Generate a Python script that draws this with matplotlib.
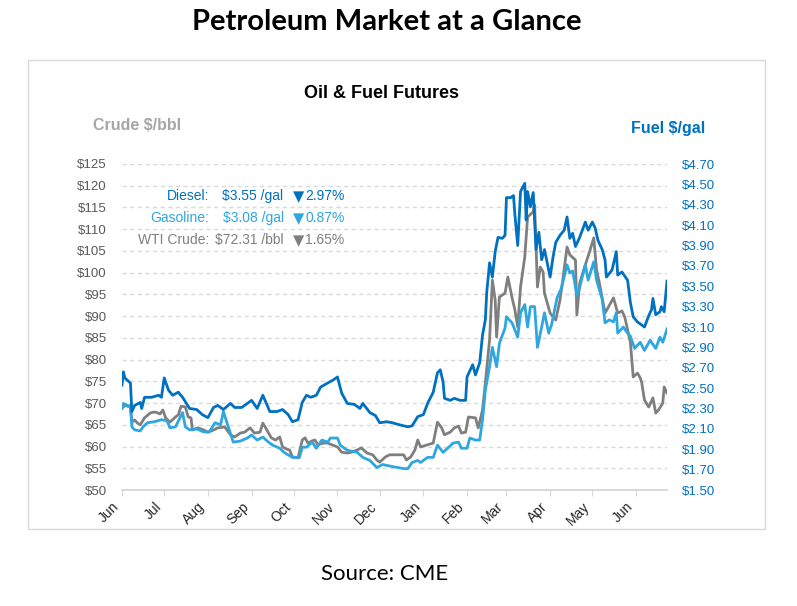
import datetime as dt
import numpy as np
import matplotlib
matplotlib.use("Agg")
import matplotlib.pyplot as plt
import matplotlib.dates as mdates
from matplotlib.patches import Rectangle

start = dt.date(2021, 6, 1)
end_day = 387

# days since 2021-06-01, values in $/gal
diesel_days = [0, 1, 2, 6, 7, 9, 13, 14, 16, 21, 26, 28, 30, 33, 36, 40, 43, 48, 53, 57,
               61, 65, 68, 72, 77, 80, 85, 89, 92, 96, 100, 105, 110, 114, 118, 121, 125, 128, 131, 134,
               138, 141, 146, 150, 153, 156, 160, 165, 169, 171, 176, 180, 183, 188, 192, 197, 203, 206, 210, 214,
               217, 221, 224, 226, 228, 229, 233, 236, 240, 244, 245, 249, 251, 254, 256, 258, 259, 261, 263, 265,
               267, 270, 272, 273, 276, 278, 279, 281, 283, 286, 287, 288, 290, 292, 294, 296, 298, 300, 303, 304,
               306, 308, 311, 314, 316, 318, 320, 322, 325, 329, 331, 334, 336, 338, 341, 343, 344, 348, 351, 352,
               355, 359, 361, 363, 366, 369, 371, 374, 376, 377, 379, 382, 383, 385, 387]
diesel = [2.53, 2.66, 2.60, 2.55, 2.27, 2.33, 2.36, 2.30, 2.41, 2.41, 2.43, 2.41, 2.60, 2.48, 2.43, 2.46, 2.41, 2.30, 2.29, 2.24,
          2.21, 2.31, 2.33, 2.29, 2.35, 2.31, 2.31, 2.35, 2.38, 2.30, 2.43, 2.27, 2.27, 2.29, 2.24, 2.17, 2.19, 2.36, 2.43, 2.41,
          2.43, 2.51, 2.55, 2.58, 2.61, 2.45, 2.35, 2.34, 2.30, 2.35, 2.26, 2.23, 2.16, 2.17, 2.16, 2.14, 2.12, 2.13, 2.22, 2.24,
          2.35, 2.46, 2.65, 2.68, 2.56, 2.40, 2.38, 2.40, 2.38, 2.38, 2.61, 2.73, 2.63, 2.75, 3.02, 3.17, 3.44, 3.73, 3.59, 3.84,
          3.98, 3.97, 4.00, 4.37, 4.37, 4.39, 4.20, 3.90, 4.43, 4.51, 4.15, 4.43, 4.28, 4.42, 3.86, 4.03, 3.76, 3.86, 3.66, 3.59,
          3.78, 3.93, 4.00, 4.05, 4.18, 3.97, 4.02, 3.89, 3.98, 4.13, 4.05, 4.13, 4.07, 3.95, 3.86, 3.76, 3.59, 3.66, 3.84, 3.61,
          3.64, 3.56, 3.34, 3.20, 3.15, 3.12, 3.10, 3.21, 3.27, 3.38, 3.22, 3.25, 3.30, 3.25, 3.55]

gasoline_days = [0, 1, 4, 6, 7, 9, 13, 15, 18, 23, 28, 32, 34, 38, 43, 45, 48, 53, 58, 62,
                 66, 70, 72, 75, 79, 84, 89, 92, 96, 100, 104, 107, 112, 115, 121, 126, 128, 131, 135, 138,
                 142, 146, 148, 153, 155, 160, 167, 171, 176, 181, 185, 192, 200, 203, 206, 210, 212, 217, 221, 224,
                 228, 232, 235, 239, 241, 245, 247, 251, 254, 256, 258, 261, 263, 266, 268, 272, 273, 277, 281, 283,
                 286, 288, 290, 293, 295, 298, 300, 303, 305, 309, 312, 316, 318, 320, 323, 325, 329, 331, 335, 337,
                 341, 343, 346, 349, 351, 352, 356, 359, 361, 364, 368, 371, 375, 379, 382, 384, 387]
gasoline = [2.30, 2.35, 2.32, 2.33, 2.12, 2.09, 2.08, 2.12, 2.16, 2.17, 2.19, 2.18, 2.11, 2.12, 2.26, 2.12, 2.09, 2.10, 2.07, 2.07,
            2.16, 2.14, 2.27, 2.14, 1.97, 1.98, 2.01, 2.04, 1.99, 2.02, 1.97, 1.94, 1.91, 1.87, 1.82, 1.82, 1.92, 1.92, 1.97, 1.91,
            1.99, 1.97, 2.01, 2.01, 1.94, 1.89, 1.87, 1.82, 1.79, 1.72, 1.75, 1.73, 1.71, 1.71, 1.77, 1.79, 1.77, 1.82, 1.82, 1.94,
            1.87, 1.92, 1.96, 1.97, 1.91, 1.91, 2.01, 1.99, 1.99, 2.19, 2.48, 2.71, 2.90, 2.71, 2.94, 3.09, 3.20, 3.14, 3.00, 3.24,
            3.32, 3.10, 3.30, 3.30, 2.90, 3.10, 3.24, 3.04, 3.12, 3.39, 3.48, 3.71, 3.63, 3.65, 3.41, 3.49, 3.71, 3.56, 3.74, 3.56,
            3.37, 3.14, 3.17, 3.15, 3.24, 3.04, 3.10, 3.04, 3.01, 2.89, 2.95, 2.87, 2.97, 2.89, 3.00, 2.95, 3.08]

# days since 2021-06-01, values in $/bbl
crude_days = [0, 3, 6, 7, 9, 11, 13, 16, 20, 22, 24, 27, 29, 31, 34, 38, 40, 42, 45, 47,
              49, 50, 54, 58, 61, 65, 68, 73, 77, 80, 84, 87, 91, 94, 98, 100, 102, 106, 109, 112,
              114, 117, 119, 121, 125, 128, 130, 132, 135, 137, 139, 143, 146, 149, 153, 156, 160, 163, 167, 170,
              174, 178, 181, 183, 187, 190, 195, 200, 202, 205, 208, 210, 212, 217, 221, 224, 227, 229, 233, 236,
              239, 241, 244, 246, 251, 253, 256, 258, 260, 261, 263, 265, 266, 268, 272, 274, 277, 279, 281, 283,
              286, 288, 292, 293, 295, 297, 299, 300, 304, 308, 311, 313, 316, 318, 322, 323, 325, 329, 332, 335,
              337, 339, 343, 347, 349, 352, 355, 357, 361, 363, 366, 368, 369, 371, 374, 377, 379, 381, 384, 385,
              387]
crude = [68.9, 69.6, 69.1, 65.6, 66.1, 65.4, 65.0, 66.6, 67.7, 67.9, 67.9, 67.5, 68.4, 66.6, 65.6, 66.8, 67.3, 69.3, 69.1, 66.8,
         66.6, 63.8, 64.3, 63.8, 63.3, 63.8, 64.3, 64.5, 62.7, 62.2, 63.1, 63.3, 64.3, 63.1, 63.3, 65.4, 64.3, 62.0, 61.5, 62.2,
         59.9, 59.4, 59.2, 57.6, 57.4, 61.5, 62.0, 60.8, 61.3, 61.5, 60.4, 60.8, 60.8, 60.4, 59.9, 58.7, 58.5, 58.7, 59.2, 59.7,
         58.5, 58.1, 56.9, 56.4, 57.6, 58.1, 58.1, 58.1, 56.9, 57.6, 59.2, 61.5, 59.9, 60.4, 60.8, 65.6, 64.3, 62.7, 63.3, 64.3,
         64.7, 63.1, 63.3, 66.8, 66.6, 64.3, 68.4, 74.6, 81.1, 84.5, 98.3, 93.7, 85.2, 94.4, 95.3, 99.0, 94.2, 91.4, 87.5, 96.7,
         103.6, 112.8, 114.0, 115.6, 96.7, 101.3, 100.2, 95.3, 90.7, 89.1, 93.7, 98.3, 105.9, 104.1, 102.9, 90.3, 97.6, 101.8, 104.8, 108.0,
         100.6, 97.6, 90.7, 93.0, 94.2, 90.7, 91.2, 89.8, 84.0, 76.0, 76.9, 75.8, 74.8, 70.7, 69.1, 71.2, 67.7, 68.4, 70.0, 73.7,
         72.31]

crude_ticks = np.arange(50, 126, 5)
fuel_ticks = np.arange(1.50, 4.71, 0.20)

# summary box: label, price, change
summary_names = ["Diesel:", "Gasoline:", "WTI Crude:"]
summary_prices = ["$3.55 /gal", "$3.08 /gal", "$72.31 /bbl"]
summary_changes = ["2.97%", "0.87%", "1.65%"]

DIESEL_C = "#0070C0"
GAS_C = "#2EA6E0"
CRUDE_C = "#7F7F7F"

plt.rcParams["font.family"] = ["Liberation Sans", "DejaVu Sans"]

fig = plt.figure(figsize=(7.97, 6.06), dpi=100)
W, H = 797, 606


def fx(px):
    return px / W


def fy(py):
    return 1 - py / H


fig.add_artist(Rectangle((fx(28), fy(529)), fx(765) - fx(28), fy(60) - fy(529),
                         transform=fig.transFigure, fill=False, edgecolor="#D9D9D9", lw=1))

ax = fig.add_axes([fx(122), fy(490), fx(667) - fx(122), fy(164) - fy(490)])
ax2 = ax.twinx()

to_dates = lambda days: [start + dt.timedelta(days=d) for d in days]

ax.plot(to_dates(crude_days), crude, color=CRUDE_C, lw=2, zorder=3)
ax2.plot(to_dates(gasoline_days), gasoline, color=GAS_C, lw=2, zorder=3)
ax2.plot(to_dates(diesel_days), diesel, color=DIESEL_C, lw=2, zorder=4)

ax.set_xlim(start, start + dt.timedelta(days=end_day))
ax.set_ylim(50, 125)
ax2.set_ylim(1.5, 4.7)

ax.set_yticks(crude_ticks)
ax.set_yticklabels([f"${v}" for v in crude_ticks])
ax2.set_yticks(fuel_ticks)
ax2.set_yticklabels([f"${v:.2f}" for v in fuel_ticks])

ax.grid(axis="y", color="#D9D9D9", lw=1, linestyle=(0, (3, 2.5)))
ax.set_axisbelow(True)

for a in (ax, ax2):
    for s in ("top", "left", "right"):
        a.spines[s].set_visible(False)
    a.spines["bottom"].set_color("#D9D9D9")
    a.spines["bottom"].set_linewidth(1.2)

ax.xaxis.set_major_locator(mdates.MonthLocator())
ax.xaxis.set_major_formatter(mdates.DateFormatter("%b"))
ax.tick_params(axis="x", length=4, color="#D9D9D9", labelsize=10, labelcolor="#262626", pad=3)
plt.setp(ax.get_xticklabels(), rotation=45, ha="right")
ax.tick_params(axis="y", length=0, labelsize=9.5, labelcolor="#595959", pad=11)
ax2.tick_params(axis="y", length=0, labelsize=9.5, labelcolor=DIESEL_C, pad=11)

fig.text(0.485, fy(22), "Petroleum Market at a Glance", ha="center", va="center",
         fontsize=21, fontweight="bold", family="Lato")
fig.text(fx(382), fy(93), "Oil & Fuel Futures", ha="center", va="center",
         fontsize=13, fontweight="bold", color="black")
fig.text(fx(137), fy(125), "Crude $/bbl", ha="center", va="center",
         fontsize=11.5, fontweight="bold", color="#A6A6A6")
fig.text(fx(668), fy(128), "Fuel $/gal", ha="center", va="center",
         fontsize=11.5, fontweight="bold", color=DIESEL_C)
fig.text(fx(385), fy(574), "Source: CME", ha="center", va="center", fontsize=16, family="Lato")

row_y = [196, 218, 240]
row_c = [DIESEL_C, GAS_C, CRUDE_C]
price_x = [222, 223, 215]
for name, price, chg, y, c, px in zip(summary_names, summary_prices, summary_changes, row_y, row_c, price_x):
    fig.text(fx(209), fy(y), name, ha="right", va="center", fontsize=10, color=c)
    fig.text(fx(px), fy(y), price, ha="left", va="center", fontsize=10, color=c)
    fig.text(fx(298.5), fy(y + 0.5), "\u25bc", ha="center", va="center", fontsize=10.5,
             color=c, family="DejaVu Sans")
    fig.text(fx(305), fy(y), chg, ha="left", va="center", fontsize=10, color=c)

fig.savefig("out.png", dpi=100)
